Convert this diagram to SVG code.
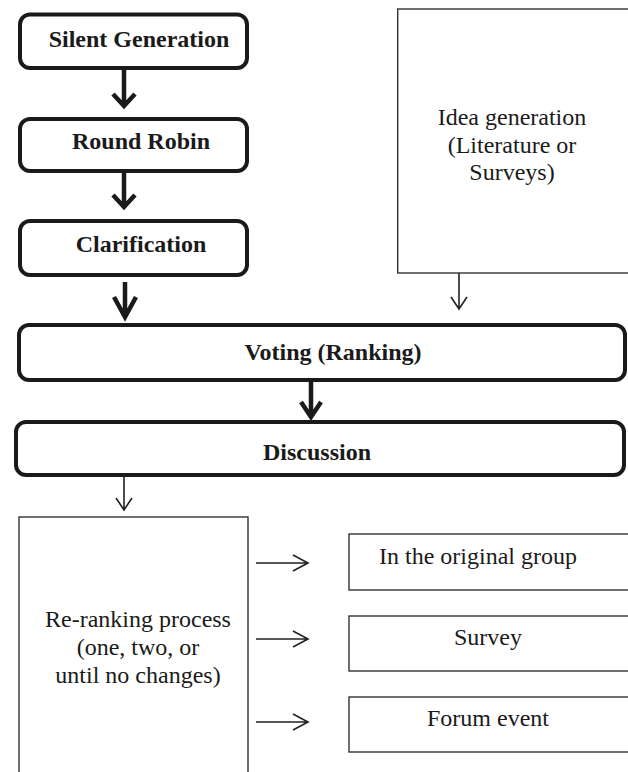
<svg xmlns="http://www.w3.org/2000/svg" width="628" height="772" viewBox="0 0 628 772">
<style>
.rb{fill:#fff;stroke:#1a1a1a;stroke-width:4}
.sq{fill:#fff;stroke:#333;stroke-width:1.4}
.tb{font-family:"Liberation Serif",serif;font-weight:bold;font-size:24px;fill:#1a1a1a;text-anchor:middle}
.tr{font-family:"Liberation Serif",serif;font-size:24px;fill:#1a1a1a;text-anchor:middle}
.thick{fill:none;stroke:#1a1a1a;stroke-width:4.5}
.thin{fill:none;stroke:#222;stroke-width:1.6}
</style>
<rect width="628" height="772" fill="#fff"/>
<g id="silent"><rect class="rb" x="20" y="14.5" width="227" height="53.5" rx="10"/><text class="tb" x="139" y="47">Silent Generation</text></g>
<g id="roundrobin"><rect class="rb" x="20" y="119" width="227" height="52" rx="10"/><text class="tb" x="141" y="149">Round Robin</text></g>
<g id="clarification"><rect class="rb" x="20" y="221" width="227" height="54" rx="10"/><text class="tb" x="141" y="252">Clarification</text></g>
<g id="idea"><rect class="sq" x="397.7" y="9" width="240" height="264"/><text class="tr" x="512" y="125">Idea generation</text><text class="tr" x="512" y="153">(Literature or</text><text class="tr" x="512" y="180">Surveys)</text></g>
<g id="voting"><rect class="rb" x="19" y="325" width="606" height="55" rx="10"/><text class="tb" x="333" y="360">Voting (Ranking)</text></g>
<g id="discussion"><rect class="rb" x="16" y="422" width="608" height="53" rx="10"/><text class="tb" x="317" y="460">Discussion</text></g>
<g id="reranking"><rect class="sq" x="19" y="517" width="229" height="270"/><text class="tr" x="138" y="627">Re-ranking process</text><text class="tr" x="138" y="655">(one, two, or</text><text class="tr" x="138" y="683">until no changes)</text></g>
<g id="original"><rect class="sq" x="349" y="534" width="290" height="56"/><text class="tr" x="379" y="564" style="text-anchor:start">In the original group</text></g>
<g id="survey"><rect class="sq" x="349" y="616" width="290" height="55"/><text class="tr" x="488" y="645">Survey</text></g>
<g id="forum"><rect class="sq" x="349" y="697" width="290" height="55"/><text class="tr" x="488" y="726">Forum event</text></g>
<g id="connectors">
<path class="thick" d="M124 68V106M113 94L124 106L135 94"/>
<path class="thick" d="M124 171V207M113 195L124 207L135 195"/>
<path class="thick" d="M125 282V317M114 297L125 317L136 297"/>
<path class="thick" d="M311 380V417M301 402L311 417L321 402"/>
<path class="thin" d="M459 273V309M451 297L459 309L467 297"/>
<path class="thin" d="M124 475V510M116 498L124 510L132 498"/>
<path class="thin" d="M256 563H308M293 555L308 563L293 571"/>
<path class="thin" d="M256 639H308M293 631L308 639L293 647"/>
<path class="thin" d="M256 722H308M293 714L308 722L293 730"/>
</g>
</svg>
